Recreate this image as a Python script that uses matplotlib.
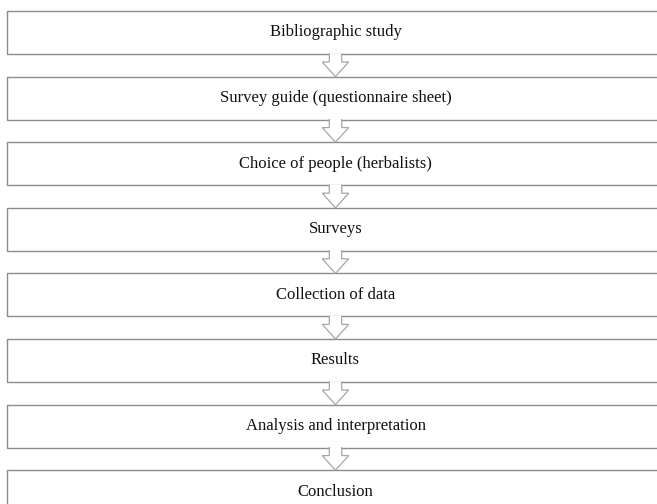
import matplotlib
matplotlib.use("Agg")
import matplotlib.pyplot as plt
from matplotlib.patches import Rectangle, Polygon

# ── Flow steps (top to bottom) ───────────────────────────────────────────────
STEPS = [
    "Bibliographic study",
    "Survey guide (questionnaire sheet)",
    "Choice of people (herbalists)",
    "Surveys",
    "Collection of data",
    "Results",
    "Analysis and interpretation",
    "Conclusion",
]

W, H = 657, 504
BOX_LEFT, BOX_RIGHT = 7, 670      # right edge runs off the picture
TOP0, PITCH, BOX_H = 11, 65.6, 43
ARROW_X = 335.5
EDGE = "#8c8c8c"
ARROW_EDGE = "#a6a6a6"

fig = plt.figure(figsize=(W / 100, H / 100), dpi=100, facecolor="white")
ax = fig.add_axes([0, 0, 1, 1])
ax.set_xlim(0, W)
ax.set_ylim(H, 0)
ax.axis("off")

for i, label in enumerate(STEPS):
    top = TOP0 + i * PITCH
    ax.add_patch(Rectangle((BOX_LEFT, top), BOX_RIGHT - BOX_LEFT, BOX_H,
                           facecolor="white", edgecolor=EDGE, lw=1.0, zorder=1))
    ax.text(ARROW_X, top + BOX_H / 2, label, ha="center", va="center",
            fontsize=12, family="Liberation Serif", color="#111111", zorder=4)

    if i < len(STEPS) - 1:
        bot = top + BOX_H
        nxt = TOP0 + (i + 1) * PITCH
        sw, hw = 6.2, 13.2
        neck = bot + 8
        pts = [(ARROW_X - sw, bot - 0.6), (ARROW_X - sw, neck),
               (ARROW_X - hw, neck), (ARROW_X, nxt),
               (ARROW_X + hw, neck), (ARROW_X + sw, neck),
               (ARROW_X + sw, bot - 0.6)]
        ax.add_patch(Polygon(pts, closed=True, facecolor="white",
                             edgecolor="none", zorder=2))
        xs = [p[0] for p in pts]
        ys = [p[1] for p in pts]
        ys[0] = ys[-1] = bot
        ax.plot(xs, ys, color=ARROW_EDGE, lw=0.9, zorder=3,
                solid_joinstyle="miter")

fig.savefig("out.png", dpi=100, facecolor="white")
